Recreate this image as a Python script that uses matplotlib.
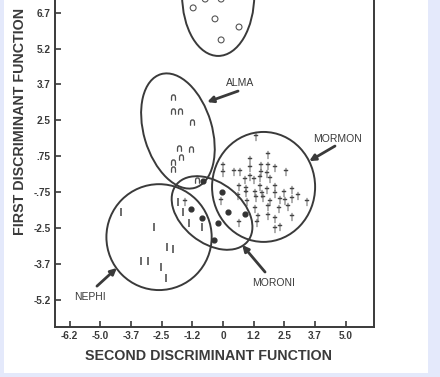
import matplotlib
matplotlib.use("Agg")
import matplotlib.pyplot as plt
from matplotlib.patches import Ellipse, Rectangle

plt.rcParams['font.family'] = ['Liberation Sans', 'DejaVu Sans']

# ---- data (axis units) ----
x_ticks = [-6.25, -5.0, -3.75, -2.5, -1.25, 0.0, 1.25, 2.5, 3.75, 5.0]
x_tick_labels = ['-6.2', '-5.0', '-3.7', '-2.5', '-1.2', '0', '1.2', '2.5', '3.7', '5.0']
y_ticks = [6.75, 5.25, 3.75, 2.25, 0.75, -0.75, -2.25, -3.75, -5.25]
y_tick_labels = ['6.7', '5.2', '3.7', '2.5', '.75', '-.75', '-2.5', '-3.7', '-5.2']

circle_x = [-1.22, -0.73, -0.08, -0.33, 0.65, -0.08]
circle_y = [6.95, 7.32, 7.32, 6.49, 6.15, 5.61]

alma_x = [-2.04, -2.04, -1.75, -1.26, -1.79, -1.30, -1.71, -2.04, -2.04, -1.06]
alma_y = [3.22, 2.64, 2.64, 2.18, 1.09, 1.05, 0.71, 0.50, 0.21, -0.25]

mormon_x = [1.34, 1.83, 1.10, 0.00, 0.00, 0.45, 0.69, 1.10, 1.10, 1.55, 1.83, 2.12,
            2.57, 1.55, 1.79, 1.51, 1.92, 0.90, 1.26, 0.65, 0.94, 1.51, 1.79, 2.12,
            0.94, 1.30, 1.59, 2.12, 2.49, 2.81, 0.61, 0.98, 1.34, 1.63, 1.92, 2.32,
            2.53, 2.81, 3.06, 3.42, -0.08, 1.30, 1.83, 2.28, 2.65, 1.43, 1.83, 2.12,
            0.65, 1.39, 2.12, 2.32, 2.81, -1.55]
mormon_y = [1.55, 0.79, 0.59, 0.33, 0.04, 0.08, 0.08, 0.25, -0.13, 0.33, 0.33, 0.25,
            0.08, 0.04, 0.00, -0.17, -0.21, -0.25, -0.25, -0.54, -0.63, -0.54, -0.67, -0.54,
            -0.79, -0.79, -0.84, -0.84, -0.79, -0.67, -0.92, -1.17, -1.00, -1.00, -1.17, -1.09,
            -1.13, -1.05, -0.92, -1.17, -1.13, -1.46, -1.38, -1.46, -1.38, -1.80, -1.76, -1.88,
            -2.05, -2.05, -2.30, -2.22, -1.80, -1.17]

moroni_x = [-0.82, -0.04, -1.30, -0.86, 0.20, 0.90, -0.20, -0.37]
moroni_y = [-0.29, -0.75, -1.46, -1.84, -1.59, -1.67, -2.05, -2.76]

nephi_x = [-4.16, -2.81, -2.28, -2.04, -3.34, -3.06, -2.53, -2.32, -1.83, -1.63, -1.39, -0.86]
nephi_y = [-1.59, -2.22, -3.05, -3.14, -3.64, -3.64, -3.89, -4.35, -1.17, -1.59, -2.05, -2.22]

# group regions: (center x, center y, width, height, angle)
region_top = (-0.20, 7.49, 2.94, 5.10, 0)
region_alma = (-1.84, 1.80, 2.78, 4.95, 16)
region_mormon = (1.65, -0.54, 4.20, 4.60, 0)
region_moroni = (-0.45, -1.63, 3.75, 2.50, -40)
region_nephi = (-2.61, -2.64, 4.29, 4.43, 0)

labels = ['ALMA', 'MORMON', 'MORONI', 'NEPHI']
label_xy = [(0.69, 3.81), (4.65, 1.46), (2.04, -4.56), (-5.43, -5.14)]
arrow_tail = [(0.61, 3.47), (4.56, 1.17), (1.71, -4.10), (-5.14, -4.69)]
arrow_tip = [(-0.65, 3.01), (3.51, 0.54), (0.78, -2.97), (-4.33, -3.93)]

ink = '#3a3a3a'

fig = plt.figure(figsize=(4.40, 3.77), dpi=100, facecolor='#e4e9fb')
fig.patches.append(Rectangle((4 / 440, 4 / 377), 424 / 440, 373 / 377,
                             transform=fig.transFigure, facecolor='white',
                             edgecolor='none', zorder=-10))
ax = fig.add_axes([55 / 440, 50 / 377, 319 / 440, 327 / 377])
ax.set_zorder(5)
ax.set_facecolor('none')
ax.set_xlim(-6.85, 6.15)
ax.set_ylim(-6.40, 7.28)

for spine in ['left', 'bottom', 'right']:
    ax.spines[spine].set_color(ink)
    ax.spines[spine].set_linewidth(1.4)
ax.spines['top'].set_visible(False)

ax.set_xticks(x_ticks)
ax.set_xticklabels(x_tick_labels)
ax.set_yticks(y_ticks)
ax.set_yticklabels(y_tick_labels)
ax.tick_params(direction='in', length=4, width=1.2, color=ink, labelcolor=ink,
               labelsize=7.2, pad=3)
for t in ax.get_xticklabels() + ax.get_yticklabels():
    t.set_fontweight('bold')

for (cx, cy, w, h, a) in [region_top, region_alma, region_mormon, region_moroni, region_nephi]:
    ax.add_patch(Ellipse((cx, cy), w, h, angle=a, facecolor='none',
                         edgecolor=ink, linewidth=1.4))

ax.scatter(circle_x, circle_y, s=18, marker='o', facecolors='none',
           edgecolors='#555555', linewidths=0.8)
ax.scatter(alma_x, alma_y, s=18, marker=r'$\cap$', color='#444444', linewidths=0.3)
ax.scatter(mormon_x, mormon_y, s=34, marker=r'$\dagger$', color='#444444', linewidths=0.3)
ax.scatter(moroni_x, moroni_y, s=12, marker='o', color='#333333')
ax.scatter(nephi_x, nephi_y, s=34, marker='|', color='#444444', linewidths=1.1)

for lab, (lx, ly), tail, tip in zip(labels, label_xy, arrow_tail, arrow_tip):
    ax.text(lx, ly, lab, ha='center', va='center', fontsize=7.5, color=ink)
    ax.annotate('', xy=tip, xytext=tail,
                arrowprops=dict(arrowstyle='-|>', color=ink, lw=2.0,
                                mutation_scale=9, shrinkA=0, shrinkB=0))

fig.text(208 / 440, 1 - 356 / 377, 'SECOND DISCRIMINANT FUNCTION', ha='center',
         va='center', fontsize=10.3, fontweight='bold', color=ink)
fig.text(20 / 440, 1 - 121 / 377, 'FIRST DISCRIMINANT FUNCTION', ha='center',
         va='center', fontsize=10.3, fontweight='bold', color=ink, rotation=90)

fig.savefig('out.png', dpi=100, facecolor=fig.get_facecolor())
